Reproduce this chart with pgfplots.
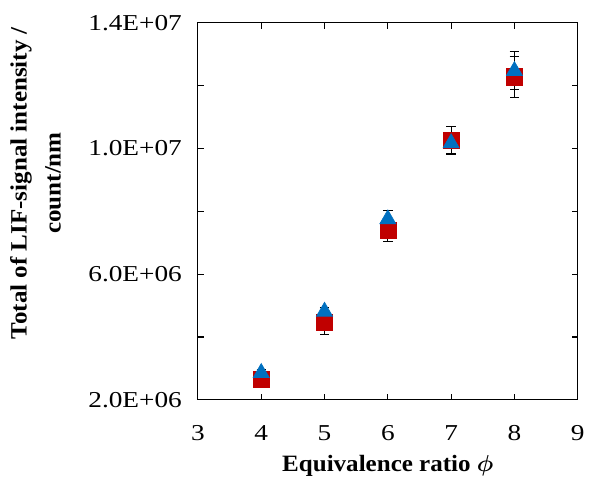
\documentclass[border=0pt]{standalone}
\usepackage{amsmath,amssymb,bm}
\usepackage{fontspec}
\setmainfont{Liberation Serif}
\newfontfamily\tickfont[FakeStretch=1.2]{Liberation Serif}
\newfontfamily\labfont[FakeStretch=1.07]{Liberation Serif}
\usepackage{pgfplots}
\pgfplotsset{compat=1.18}
\definecolor{datred}{HTML}{C00000}
\definecolor{datblue}{HTML}{0070C0}
\begin{document}
\begin{tikzpicture}
\begin{axis}[
  width=284pt, height=282pt, scale only axis,
  xmin=3, xmax=9, ymin=2e6, ymax=1.4e7,
  xtick={3,4,5,6,7,8,9},
  ytick={2e6,6e6,1e7,1.4e7},
  yticklabels={2.0E+06,6.0E+06,1.0E+07,1.4E+07},
  minor ytick={4e6,8e6,1.2e7},
  scaled y ticks=false,
  tick align=inside,
  major tick length=4.5pt, minor tick length=4.5pt,
  tick style={black, thick},
  axis line style={black, thick},
  tick label style={font=\tickfont\fontsize{17}{20}\selectfont},
  xticklabel style={yshift=-15.5pt},
  yticklabel style={xshift=-8.5pt},
  /pgf/number format/assume math mode=true,
  xlabel={\textbf{Equivalence ratio $\bm{\phi}$}},
  xlabel style={font=\labfont\fontsize{17.5}{20}\selectfont,
    at={(rel axis cs:0.5,-0.147)}, anchor=north, inner sep=0pt},
  ylabel={\textbf{Total of LIF-signal intensity /}\\\textbf{count/nm}},
  ylabel style={font=\labfont\fontsize{17.5}{25.5}\selectfont, align=center,
    at={(rel axis cs:-0.507,0.575)}, anchor=north, rotate=0},
  clip=false,
]
\addplot[only marks, mark=square*, mark size=6pt, color=datred,
  error bars/.cd, y dir=both, y explicit, error bar style={black, thick}, error mark options={black, thick, mark size=3.5pt, rotate=90}]
  coordinates {
  (4,2.67e6) +- (0,0.22e6)
  (5,4.46e6) +- (0,0.39e6)
  (6,7.39e6) +- (0,0.35e6)
  (7,10.27e6) +- (0,0.42e6)
  (8,12.28e6) +- (0,0.65e6)
};
\addplot[only marks, mark=triangle*, mark size=7pt, color=datblue,
  error bars/.cd, y dir=both, y explicit, error bar style={black, thick}, error mark options={black, thick, mark size=3.5pt, rotate=90}]
  coordinates {
  (4,2.86e6) +- (0,0.1e6)
  (5,4.81e6) +- (0,0.12e6)
  (6,7.75e6) +- (0,0.27e6)
  (7,10.17e6) +- (0,0.35e6)
  (8,12.47e6) +- (0,0.6e6)
};
\end{axis}
\path ([yshift=17pt]current axis.north);
\path ([xshift=-148pt]current axis.west);
\end{tikzpicture}
\end{document}
